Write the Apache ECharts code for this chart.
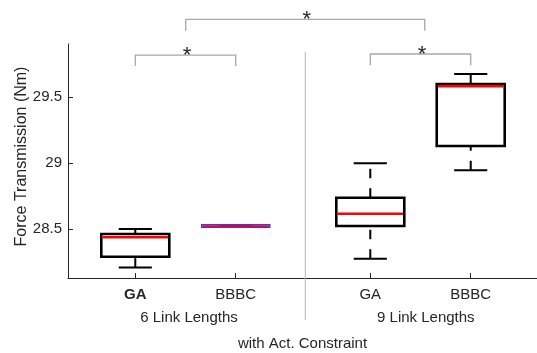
<!DOCTYPE html>
<html>
<head>
<meta charset="utf-8">
<script src="https://cdn.jsdelivr.net/npm/echarts@6/dist/echarts.min.js"></script>
<style>
  html, body { margin: 0; padding: 0; background: #fff; }
  #chart { width: 537px; height: 353px; }
</style>
</head>
<body>
<div id="chart"></div>
<script>
// Box statistics per group (Force Transmission, Nm)
const categories = ['GA', 'BBBC', 'GA', 'BBBC'];
const positions = [1, 2, 3.34, 4.34];
const lowerWhisker = [28.205, 28.513, 28.273, 28.946];
const q1 = [28.288, 28.512, 28.521, 29.13];
const median = [28.435, 28.52, 28.615, 29.583];
const q3 = [28.46, 28.53, 28.736, 29.601];
const upperWhisker = [28.498, 28.527, 28.999, 29.677];

// Group labels under the category labels
const groupNames = ['6 Link Lengths', '9 Link Lengths'];
const groupCenters = [1.535, 3.893];
const constraintLabel = 'with Act. Constraint';

// Significance brackets: [x start, x end, bar level, leg end level]
const bracketStart = [1.502, 1, 3.34];
const bracketEnd = [3.882, 2, 4.34];
const bracketLevel = [30.092, 29.821, 29.829];
const bracketLegEnd = [30.006, 29.737, 29.743];
const bracketMark = ['*', '*', '*'];

// Divider between the two link-length groups
const dividerX = 2.693;
const dividerTop = 29.844;
const dividerBottom = 27.806;

const yTicks = [28.5, 29, 29.5];

const FONT = "'Liberation Sans', Arial, Helvetica, sans-serif";
const INK = '#262626';

const boxData = positions.map((p, i) =>
  [p, lowerWhisker[i], q1[i], median[i], q3[i], upperWhisker[i], i]);
const bracketData = bracketStart.map((s, i) =>
  [s, bracketEnd[i], bracketLevel[i], bracketLegEnd[i], i]);

const chart = echarts.init(document.getElementById('chart'), null, { renderer: 'canvas' });

chart.setOption({
  animation: false,
  backgroundColor: '#ffffff',
  grid: { left: 68, right: 0, top: 44, bottom: 75, containLabel: false, outerBoundsMode: 'none' },
  xAxis: [
    {
      type: 'value', min: 0.33, max: 5.0,
      axisLine: { show: true, lineStyle: { color: INK, width: 1 } },
      axisTick: { show: true, inside: true, length: 5, customValues: positions,
                  lineStyle: { color: INK } },
      splitLine: { show: false },
      axisLabel: {
        show: true, customValues: positions, margin: 9,
        fontFamily: FONT, fontSize: 15, color: INK,
        formatter: function (v) {
          const i = positions.indexOf(v);
          return i === 0 ? '{b|' + categories[i] + '}' : categories[i];
        },
        rich: { b: { fontFamily: FONT, fontSize: 15, fontWeight: 'bold', color: INK } }
      }
    },
    {
      type: 'value', min: 0.33, max: 5.0, position: 'bottom', offset: 24,
      axisLine: { show: false }, axisTick: { show: false }, splitLine: { show: false },
      axisLabel: {
        show: true, customValues: groupCenters, margin: 8,
        fontFamily: FONT, fontSize: 15, color: INK,
        formatter: function (v) { return groupNames[groupCenters.indexOf(v)]; }
      },
      name: constraintLabel, nameLocation: 'middle', nameGap: 34,
      nameMoveOverlap: false,
      nameTextStyle: { fontFamily: FONT, fontSize: 15, color: INK }
    }
  ],
  yAxis: {
    type: 'value', min: 28.126, max: 29.905,
    axisLine: { show: true, lineStyle: { color: INK, width: 1 } },
    axisTick: { show: true, inside: true, length: 5, customValues: yTicks,
                lineStyle: { color: INK } },
    splitLine: { show: false },
    axisLabel: { show: true, customValues: yTicks, margin: 6,
                 fontFamily: FONT, fontSize: 15, color: INK },
    name: 'Force Transmission (Nm)', nameLocation: 'middle', nameGap: 38,
    nameMoveOverlap: false,
    nameTextStyle: { fontFamily: FONT, fontSize: 16, color: INK, padding: [0, 0, 0, 9] }
  },
  series: [
    {
      // group divider
      type: 'custom', clip: false, z: 1,
      data: [[dividerX, dividerTop, dividerBottom]],
      renderItem: function (params, api) {
        const a = api.coord([api.value(0), api.value(1)]);
        const b = api.coord([api.value(0), api.value(2)]);
        return { type: 'line', shape: { x1: a[0], y1: a[1], x2: b[0], y2: b[1] },
                 style: { stroke: '#b4b4b4', lineWidth: 1 } };
      }
    },
    {
      // box plots
      type: 'custom', clip: false, z: 3,
      data: boxData,
      renderItem: function (params, api) {
        const x = api.value(0);
        const idx = api.value(6);
        const pLow = api.coord([x, api.value(1)]);
        const pQ1 = api.coord([x, api.value(2)]);
        const pMed = api.coord([x, api.value(3)]);
        const pQ3 = api.coord([x, api.value(4)]);
        const pHigh = api.coord([x, api.value(5)]);
        const half = api.size([0.677, 0])[0] / 2;
        const capHalf = api.size([0.33, 0])[0] / 2;
        const flat = idx === 1;
        const boxColor = flat ? '#3a3aff' : '#000000';
        const capColor = flat ? '#333333' : '#000000';
        const dash = [9.5, 10];
        const children = [
          { type: 'line', shape: { x1: pLow[0], y1: pLow[1], x2: pQ1[0], y2: pQ1[1] },
            style: { stroke: '#000', lineWidth: 2, lineDash: dash } },
          { type: 'line', shape: { x1: pQ3[0], y1: pQ3[1], x2: pHigh[0], y2: pHigh[1] },
            style: { stroke: '#000', lineWidth: 2, lineDash: dash } },
          { type: 'line', shape: { x1: pLow[0] - capHalf, y1: pLow[1], x2: pLow[0] + capHalf, y2: pLow[1] },
            style: { stroke: capColor, lineWidth: 2 } },
          { type: 'line', shape: { x1: pHigh[0] - capHalf, y1: pHigh[1], x2: pHigh[0] + capHalf, y2: pHigh[1] },
            style: { stroke: capColor, lineWidth: 2 } },
          { type: 'rect', shape: { x: pQ3[0] - half, y: pQ3[1], width: half * 2, height: pQ1[1] - pQ3[1] },
            style: { fill: flat ? 'none' : '#fff', stroke: boxColor, lineWidth: flat ? 1.5 : 2.6 } },
          { type: 'line', shape: { x1: pMed[0] - half + (flat ? 1 : 1.3), y1: pMed[1], x2: pMed[0] + half - (flat ? 1 : 1.3), y2: pMed[1] },
            style: { stroke: '#ff0000', lineWidth: flat ? 2 : 2.5 } }
        ];
        return { type: 'group', children: children };
      }
    },
    {
      // significance brackets
      type: 'custom', clip: false, z: 2,
      data: bracketData,
      renderItem: function (params, api) {
        const a = api.coord([api.value(0), api.value(3)]);
        const b = api.coord([api.value(0), api.value(2)]);
        const c = api.coord([api.value(1), api.value(2)]);
        const d = api.coord([api.value(1), api.value(3)]);
        const i = api.value(4);
        return {
          type: 'group',
          children: [
            { type: 'polyline', shape: { points: [a, b, c, d] },
              style: { stroke: '#a8a8a8', lineWidth: 1.3, fill: null } },
            { type: 'text', x: (b[0] + c[0]) / 2 + 1.5, y: b[1] + 1,
              style: { text: bracketMark[i], font: '22px ' + FONT, fill: '#262626',
                       align: 'center', verticalAlign: 'middle' } }
          ]
        };
      }
    }
  ]
});
</script>
</body>
</html>
